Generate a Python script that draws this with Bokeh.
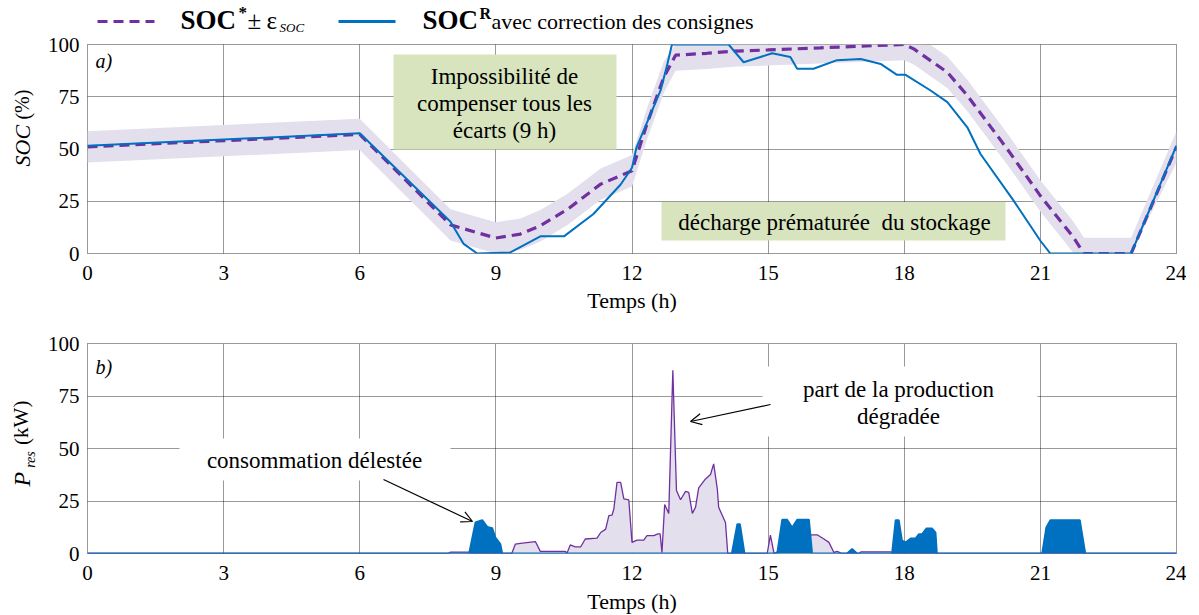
from bokeh.plotting import figure
from bokeh.layouts import column, row
from bokeh.models import Range1d, FixedTicker, Label, Arrow, OpenHead
from bokeh.embed import file_html
from bokeh.resources import INLINE

# ---------------- data ----------------
x_ticks = [0, 3, 6, 9, 12, 15, 18, 21, 24]
y_ticks = [0, 25, 50, 75, 100]
eps_soc = 7.5

# SOC* (reference trajectory, %)
soc_ref_t = [0, 6, 8, 9, 9.54, 9.98, 10.57, 11.31, 12.0, 12.33, 12.7, 12.96, 13.65, 14.24,
             15.0, 16.15, 17.4, 18.0, 18.21, 18.58, 18.95, 19.39, 20.27, 21.0, 21.73, 21.96, 23.0, 24]
soc_ref = [51, 57, 13.7, 7.4, 9.3, 13.3, 21.0, 33.2, 39.6, 62, 84.3, 94.9, 95.8, 96.8,
           97.4, 98.4, 99.5, 100, 97.9, 92.3, 86.7, 75.6, 50, 27.6, 7.7, 0, 0, 51]

# SOC^R (real, with set-point correction, %)
soc_real_t = [0, 6, 8, 8.29, 8.59, 9.32, 9.98, 10.5, 11.15, 11.75, 12.0, 12.1, 12.63, 12.78, 12.88,
              14.13, 14.46, 14.83, 15.09, 15.49, 15.64, 16.0, 16.52, 17.04, 17.33, 17.48, 17.84,
              18.03, 18.58, 18.95, 19.39, 19.68, 20.41, 21.0, 21.22, 23.0, 24]
soc_real = [51.5, 57.5, 15.2, 4.6, 0, 0.5, 8.2, 8.2, 18.9, 33, 41, 50.8, 78, 90.7, 100,
            100, 91.5, 94, 95.8, 94, 88.4, 88.4, 92.5, 93.1, 91.5, 90.7, 85.5,
            85.5, 78, 72.4, 60.4, 47.6, 25.3, 6.1, 0, 0, 51.6]

# degraded production (kW)
prod_t = [0, 7.95, 8.0, 8.4, 8.45, 9.35, 9.43, 9.54, 9.87, 9.98, 10.53, 10.57, 10.64, 10.75, 10.87,
          10.97, 11.23, 11.31, 11.42, 11.49, 11.56, 11.6, 11.67, 11.75, 11.82, 11.93, 12.0,
          12.11, 12.26, 12.33, 12.48, 12.57, 12.62, 12.66, 12.72, 12.81, 12.9, 12.98, 13.07,
          13.18, 13.25, 13.33, 13.4, 13.47, 13.62, 13.73, 13.8, 13.88, 13.91, 14.06, 14.11,
          14.98, 15.05, 15.13, 15.95, 16.08, 16.23, 16.34, 16.45, 16.52, 16.63, 17.0, 17.05,
          17.7, 17.75, 24]
prod = [0, 0, 0.7, 0.7, 0, 0, 4.5, 4.8, 5.7, 1, 1, 0.3, 4.1, 3.2, 3.2,
        6.9, 7.3, 10, 11.6, 18, 18.3, 21.2, 33.9, 33.9, 26, 25.5, 5.3,
        6.4, 6.4, 8.5, 8.5, 9.3, 9.3, 0.5, 23.3, 19.1, 87.2, 30, 25.6,
        29.6, 29.1, 19.1, 22, 31.2, 35.5, 37.6, 42.7, 30.8, 22, 14.8, 0,
        0, 8.8, 0, 8.9, 8.9, 6.9, 5.3, 0.5, 1, 0, 0, 0.8,
        0.8, 0, 0]

# shed consumption (kW)
shed_t = [0, 8.41, 8.55, 8.7, 8.81, 8.92, 8.99, 9.1, 9.14, 14.2, 14.32, 14.38, 14.48,
          15.2, 15.31, 15.42, 15.53, 15.64, 15.9, 15.97, 16.74, 16.85, 16.96,
          17.73, 17.81, 17.88, 17.95, 18.03, 18.14, 18.25, 18.32, 18.39, 18.49, 18.61, 18.69, 18.72,
          21.04, 21.13, 21.22, 21.87, 21.99, 24]
shed = [0, 0, 14.8, 15.9, 12.7, 12.1, 7.6, 4.5, 0, 0, 14, 14, 0,
        0, 16.1, 16.1, 12.4, 16.1, 16.1, 0, 0, 2.2, 0,
        0, 15.9, 15.9, 6.1, 5.3, 7.2, 7.2, 9.2, 9.2, 12, 12, 10, 0,
        0, 12.4, 15.9, 15.9, 0, 0]

# ---------------- style / layout ----------------
FONT = "Liberation Serif"
PURPLE = "#7030a0"
BLUE = "#0070c0"
LAV = "#e4dfec"
GREEN = "#d7e4bd"

FW = 1089          # frame width
LABW = 40          # left label strip width
LEFT = 47          # left border of plots (frame left at 87)
RIGHT = 10
LEG_H = 34         # legend strip height
T1, H1, B1 = 10, 209, 62
T2, H2, B2 = 28, 210, 60
TOP1 = LEG_H                 # page y of top row
TOP2 = LEG_H + T1 + H1 + B1  # page y of bottom row


def make_fig(frame_h, top, bottom, xstand):
    p = figure(frame_width=FW, frame_height=frame_h, min_border_left=LEFT, min_border_right=RIGHT,
               min_border_top=top, min_border_bottom=bottom,
               x_range=Range1d(0, 24), y_range=Range1d(0, 100),
               output_backend="svg", toolbar_location=None)
    p.background_fill_color = "white"
    p.border_fill_color = "white"
    p.outline_line_color = "#000000"
    p.outline_line_dash = "1 1"
    p.outline_line_alpha = 0.8
    p.xaxis.ticker = FixedTicker(ticks=x_ticks)
    p.yaxis.ticker = FixedTicker(ticks=y_ticks)
    for ax in (p.xaxis, p.yaxis):
        ax.axis_line_color = None
        ax.major_tick_line_color = None
        ax.minor_tick_line_color = None
        ax.major_label_text_font = FONT
        ax.major_label_text_font_size = "21px"
        ax.major_label_text_color = "black"
    p.xaxis.major_label_standoff = 6
    p.yaxis.major_label_standoff = 2
    p.xaxis.axis_label = "Temps (h)"
    p.xaxis.axis_label_text_font = FONT
    p.xaxis.axis_label_text_font_size = "22px"
    p.xaxis.axis_label_text_font_style = "normal"
    p.xaxis.axis_label_text_color = "black"
    p.xaxis.axis_label_standoff = xstand
    for g in (p.xgrid, p.ygrid):
        g.grid_line_color = "#000000"
        g.grid_line_dash = "1 1"
        g.grid_line_alpha = 0.8
        g.grid_line_width = 1
    return p


def strip(w, h):
    s = figure(width=w, height=h, min_border=0, x_range=Range1d(0, w), y_range=Range1d(h, 0),
               x_axis_location=None, y_axis_location=None,
               output_backend="svg", toolbar_location=None)
    s.grid.visible = False
    s.outline_line_color = None
    s.background_fill_color = "white"
    s.border_fill_color = "white"
    return s


def ident(v):
    return v


def lab(p, x, y, text, size=23, style="normal", align="left", conv=ident, angle=0, baseline="alphabetic"):
    # y is the wanted page baseline; Bokeh draws labels ~0.33 em lower, so compensate
    yy = y - 0.33 * size if baseline == "alphabetic" else y
    p.add_layout(Label(x=x, y=conv(yy), text=text, text_font=FONT, text_font_size=f"{size}px",
                       text_font_style=style, text_align=align, text_baseline=baseline,
                       text_color="black", angle=angle))


# page-pixel -> data helpers (layout only)
def X(px):
    return (px - 87) / (FW / 24)


def YT(py):
    return (44 + H1 - py) / (H1 / 100)


def YB(py):
    return (343 + H2 - py) / (H2 / 100)


# ---------------- legend strip ----------------
leg = strip(LABW + LEFT + FW + RIGHT, LEG_H)
leg.line(x=[97, 154], y=[21, 21], line_color=PURPLE, line_width=3.2, line_dash="10 6")
lab(leg, 180, 28, "SOC", size=27, style="bold")
lab(leg, 238, 18, "*", size=17, style="bold")
lab(leg, 247, 28, "±", size=25)
lab(leg, 266, 28, "ε", size=25)
lab(leg, 279, 31, "SOC", size=13, style="italic")
leg.line(x=[338, 395], y=[21, 21], line_color=BLUE, line_width=3)
lab(leg, 422, 28, "SOC", size=27, style="bold")
lab(leg, 479, 18, "R", size=16, style="bold")
lab(leg, 491, 28, "avec correction des consignes", size=22)

# ---------------- top figure ----------------
p1 = make_fig(H1, T1, B1, 5)

upper = [min(v + eps_soc, 100) for v in soc_ref]
lower = [max(v - eps_soc, 0) for v in soc_ref]
p1.varea(x=soc_ref_t, y1=lower, y2=upper, fill_color=LAV, fill_alpha=1.0)

p1.quad(left=X(393), right=X(616), top=YT(54), bottom=YT(149), fill_color=GREEN, line_color=None)
p1.quad(left=X(661), right=X(1005), top=YT(201.5), bottom=YT(240), fill_color=GREEN, line_color=None)

p1.line(soc_ref_t, soc_ref, line_color=PURPLE, line_width=3.2, line_dash="10 6")
p1.line(soc_real_t, soc_real, line_color=BLUE, line_width=2)

lab(p1, X(504), 83.5, "Impossibilité de", align="center", conv=YT)
lab(p1, X(504), 110.5, "compenser tous les", align="center", conv=YT)
lab(p1, X(504), 137.5, "écarts (9 h)", align="center", conv=YT)
lab(p1, X(834), 229.5, "décharge prématurée\u00a0 du stockage", align="center", conv=YT)
lab(p1, X(95), 67, "a)", size=20, style="italic", conv=YT)

s1 = strip(LABW, T1 + H1 + B1)
lab(s1, 22, 198 - TOP1, "SOC", size=22, style="italic", baseline="middle", angle=1.5708)
lab(s1, 22, 135 - TOP1, "(%)", size=20, baseline="middle", angle=1.5708)

# ---------------- bottom figure ----------------
p2 = make_fig(H2, T2, B2, 6)

p2.quad(left=X(179), right=X(450), top=YB(438), bottom=YB(480), fill_color="white", line_color=None)
p2.quad(left=X(762), right=X(1037), top=YB(366), bottom=YB(436), fill_color="white", line_color=None)

p2.varea(x=prod_t, y1=[0] * len(prod), y2=prod, fill_color=LAV)
p2.line(prod_t, prod, line_color=PURPLE, line_width=1.3)
p2.varea(x=shed_t, y1=[0] * len(shed), y2=shed, fill_color=BLUE)
p2.line(shed_t, shed, line_color=BLUE, line_width=1.8)

lab(p2, X(314), 467.5, "consommation délestée", align="center", conv=YB)
lab(p2, X(898), 397, "part de la production", align="center", conv=YB)
lab(p2, X(898), 423.5, "dégradée", align="center", conv=YB)
lab(p2, X(95), 373, "b)", size=20, style="italic", conv=YB)

p2.add_layout(Arrow(end=OpenHead(size=11, line_width=1.2, line_color="black"),
                    x_start=X(383), y_start=YB(479), x_end=X(472), y_end=YB(521),
                    line_width=1.2, line_color="black"))
p2.add_layout(Arrow(end=OpenHead(size=11, line_width=1.2, line_color="black"),
                    x_start=X(770), y_start=YB(404), x_end=X(690), y_end=YB(421),
                    line_width=1.2, line_color="black"))

s2 = strip(LABW, T2 + H2 + B2)
lab(s2, 21, 521 - TOP2, "P", size=24, style="italic", baseline="middle", angle=1.5708)
lab(s2, 30, 494 - TOP2, "res", size=14, style="italic", baseline="middle", angle=1.5708)
lab(s2, 21, 461 - TOP2, "(kW)", size=21, baseline="middle", angle=1.5708)

layout = column(leg, row(s1, p1), row(s2, p2))
open("out.html", "w").write(file_html(layout, INLINE))
